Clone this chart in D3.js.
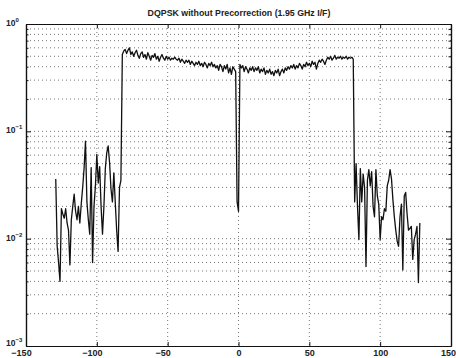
<!DOCTYPE html>
<html>
<head>
<meta charset="utf-8">
<script src="https://cdn.jsdelivr.net/npm/d3@7"></script>
<style>
  body { margin: 0; background: #fff; }
  svg { display: block; font-family: "Liberation Sans", Arial, sans-serif; }
</style>
</head>
<body>
<div id="chart"></div>
<script>
const title = "DQPSK without Precorrection (1.95 GHz I/F)";

// x ticks (frequency offset) and y decades
const xTicks = [-150, -100, -50, 0, 50, 100, 150];
const xGrid = [-100, -50, 0, 50, 100];
const yDecades = [1e-3, 1e-2, 1e-1, 1];
const yExponents = ["-3", "-2", "-1", "0"];
const minorSteps = [2, 3, 4, 5, 6, 7, 8, 9];

// spectrum, one value per frequency step of 1
const lowerStart = -129;
const lowerBand = [0.036, 0.0085, 0.006, 0.004, 0.019, 0.017, 0.0155, 0.019, 0.014, 0.012,
  0.0057, 0.015, 0.020, 0.026, 0.018, 0.015, 0.020, 0.014, 0.021, 0.030,
  0.045, 0.081, 0.022, 0.015, 0.011, 0.046, 0.006, 0.020, 0.031, 0.061,
  0.033, 0.047, 0.020, 0.011, 0.020, 0.045, 0.063, 0.073, 0.051, 0.029,
  0.022, 0.041, 0.022, 0.012, 0.0076, 0.030, 0.035];

const passStart = -82;
const passBand = [0.52, 0.56, 0.58, 0.53, 0.57, 0.60, 0.52, 0.55, 0.50, 0.54,
  0.57, 0.51, 0.48, 0.53, 0.55, 0.49, 0.52, 0.47, 0.54, 0.50,
  0.46, 0.51, 0.49, 0.53, 0.47, 0.50, 0.45, 0.49, 0.52, 0.48,
  0.46, 0.50, 0.47, 0.49, 0.46, 0.48, 0.47, 0.49, 0.47, 0.46,
  0.48, 0.44, 0.47, 0.45, 0.43, 0.46, 0.44, 0.46, 0.42, 0.45,
  0.43, 0.41, 0.44, 0.42, 0.45, 0.41, 0.43, 0.40, 0.44, 0.42,
  0.39, 0.43, 0.41, 0.44, 0.40, 0.42, 0.39, 0.41, 0.37, 0.42,
  0.40, 0.36, 0.41, 0.38, 0.42, 0.35, 0.39, 0.34, 0.40, 0.38,
  0.36, 0.022, 0.018, 0.42, 0.39, 0.41, 0.36, 0.40, 0.38, 0.35,
  0.39, 0.37, 0.40, 0.36, 0.39, 0.37, 0.40, 0.35, 0.38, 0.36,
  0.39, 0.34, 0.37, 0.35, 0.38, 0.34, 0.36, 0.33, 0.37, 0.35,
  0.38, 0.33, 0.36, 0.38, 0.35, 0.39, 0.37, 0.40, 0.38, 0.41,
  0.39, 0.42, 0.38, 0.41, 0.39, 0.43, 0.41, 0.38, 0.42, 0.40,
  0.44, 0.41, 0.43, 0.40, 0.45, 0.42, 0.44, 0.38, 0.43, 0.46,
  0.44, 0.47, 0.45, 0.42, 0.46, 0.49, 0.47, 0.50, 0.46, 0.48,
  0.51, 0.47, 0.49, 0.48, 0.50, 0.47, 0.49, 0.48, 0.50, 0.47,
  0.49, 0.48, 0.49, 0.47];

const upperStart = 82;
const upperBand = [0.022, 0.050, 0.020, 0.0098, 0.045, 0.022, 0.040, 0.030, 0.0055, 0.035,
  0.044, 0.031, 0.042, 0.020, 0.016, 0.044, 0.025, 0.021, 0.0098, 0.016,
  0.015, 0.019, 0.018, 0.031, 0.035, 0.044, 0.036, 0.023, 0.016, 0.012,
  0.0095, 0.0085, 0.016, 0.021, 0.0051, 0.025, 0.027, 0.017, 0.012, 0.0125,
  0.013, 0.0064, 0.0098, 0.011, 0.013, 0.0039, 0.014];

const width = 456, height = 358;
const plotL = 26, plotR = 451, plotT = 24, plotB = 346;

const svg = d3.select("#chart").append("svg")
    .attr("width", width)
    .attr("height", height);

const x = d3.scaleLinear().domain([-150, 150]).range([plotL, plotR]);
const y = d3.scaleLog().domain([1e-3, 1]).range([plotB, plotT]);

// all grid levels: 1..9 times each decade
let yGrid = [];
yDecades.slice(0, 3).forEach(function(d) {
    yGrid.push(d);
    minorSteps.forEach(function(m) { yGrid.push(d * m); });
});
let yMinor = yGrid.filter(v => yDecades.indexOf(v) < 0);

const grid = svg.append("g")
    .attr("stroke", "#555")
    .attr("stroke-width", 0.8)
    .attr("stroke-dasharray", "1,3");

grid.selectAll("line.h")
    .data(yGrid.filter(v => v > 1e-3))
    .enter().append("line")
    .attr("class", "h")
    .attr("x1", plotL).attr("x2", plotR)
    .attr("y1", d => y(d)).attr("y2", d => y(d));

grid.selectAll("line.v")
    .data(xGrid)
    .enter().append("line")
    .attr("class", "v")
    .attr("x1", d => x(d)).attr("x2", d => x(d))
    .attr("y1", plotT).attr("y2", plotB);

// build the trace
let trace = [];
lowerBand.forEach((v, i) => trace.push({f: lowerStart + i, v: v}));
passBand.forEach((v, i) => trace.push({f: passStart + i, v: v}));
upperBand.forEach((v, i) => trace.push({f: upperStart + i, v: v}));

const line = d3.line()
    .x(d => x(d.f))
    .y(d => y(d.v));

svg.append("path")
    .datum(trace)
    .attr("fill", "none")
    .attr("stroke", "#111")
    .attr("stroke-width", 1.3)
    .attr("stroke-linejoin", "round")
    .attr("d", line);

// axes, MATLAB style: box with inward ticks
const fmt = d => d < 0 ? "\u2212" + Math.abs(d) : String(d);

const xAxis = svg.append("g")
    .attr("transform", "translate(0," + plotB + ")")
    .call(d3.axisBottom(x).tickValues(xTicks).tickSizeInner(-4).tickSizeOuter(0)
        .tickPadding(3.5).tickFormat(fmt));
xAxis.selectAll("text")
    .attr("font-size", 9)
    .attr("font-weight", "bold")
    .attr("fill", "#222")
    .attr("dx", d => d < 0 ? -5 : (d === 150 ? -3 : 0));

svg.append("g")
    .attr("transform", "translate(0," + plotT + ")")
    .call(d3.axisTop(x).tickValues(xTicks).tickSizeInner(-4).tickSizeOuter(0).tickFormat(""));

svg.append("g")
    .attr("transform", "translate(" + plotL + ",0)")
    .call(d3.axisLeft(y).tickValues(yDecades).tickSizeInner(-5).tickSizeOuter(0).tickFormat(""));
svg.append("g")
    .attr("transform", "translate(" + plotL + ",0)")
    .call(d3.axisLeft(y).tickValues(yMinor).tickSizeInner(-2.5).tickSizeOuter(0).tickFormat(""));
svg.append("g")
    .attr("transform", "translate(" + plotR + ",0)")
    .call(d3.axisRight(y).tickValues(yDecades).tickSizeInner(-5).tickSizeOuter(0).tickFormat(""));
svg.append("g")
    .attr("transform", "translate(" + plotR + ",0)")
    .call(d3.axisRight(y).tickValues(yMinor).tickSizeInner(-2.5).tickSizeOuter(0).tickFormat(""));

svg.selectAll(".domain").attr("stroke", "#111").attr("stroke-width", 1.2);
svg.selectAll(".tick line").attr("stroke", "#111");

// y labels: 10 with superscript exponent
const yLab = svg.append("g").attr("fill", "#222").attr("font-weight", "bold");
yDecades.forEach(function(d, i) {
    const t = yLab.append("text")
        .attr("x", 6)
        .attr("y", y(d) + (i === 0 ? -0.5 : 2))
        .attr("font-size", 8.5);
    t.append("tspan").text("10");
    t.append("tspan")
        .attr("dy", -4)
        .attr("font-size", 6)
        .text(yExponents[i].replace("-", "\u2212"));
});

svg.append("text")
    .attr("x", 239)
    .attr("y", 16)
    .attr("text-anchor", "middle")
    .attr("font-size", 8.8)
    .attr("font-weight", "bold")
    .attr("fill", "#222")
    .text(title);
</script>
</body>
</html>
